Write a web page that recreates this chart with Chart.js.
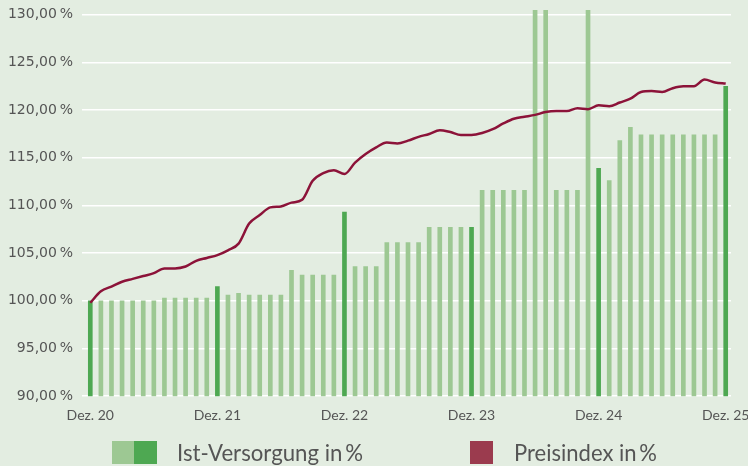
<!DOCTYPE html>
<html>
<head>
<meta charset="utf-8">
<script src="https://cdn.jsdelivr.net/npm/chart.js@4.4.1/dist/chart.umd.min.js"></script>
<style>
  html, body { margin: 0; padding: 0; background: #e3ede1; }
</style>
</head>
<body>
<canvas id="chart" width="748" height="466"></canvas>
<script>
// months Dez 20 .. Dez 25
const monthNames = ['Jan', 'Feb', 'Mär', 'Apr', 'Mai', 'Jun', 'Jul', 'Aug', 'Sep', 'Okt', 'Nov', 'Dez'];
const categories = ['Dez. 20'];
for (let y = 21; y <= 25; y++) {
    for (let m = 0; m < 12; m++) categories.push(monthNames[m] + '. ' + y);
}

const istVersorgung = [
    100.0,
    100.0, 100.0, 100.0, 100.0, 100.0, 100.0, 100.3, 100.3, 100.3, 100.3, 100.3, 101.5,
    100.6, 100.8, 100.6, 100.6, 100.6, 100.6, 103.2, 102.7, 102.7, 102.7, 102.7, 109.3,
    103.6, 103.6, 103.6, 106.1, 106.1, 106.1, 106.1, 107.7, 107.7, 107.7, 107.7, 107.7,
    111.6, 111.6, 111.6, 111.6, 111.6, 130.5, 130.5, 111.6, 111.6, 111.6, 130.5, 113.9,
    112.6, 116.8, 118.2, 117.4, 117.4, 117.4, 117.4, 117.4, 117.4, 117.4, 117.4, 122.5
];

const preisindex = [
    99.8,
    101.0, 101.5, 102.0, 102.3, 102.6, 102.9, 103.4, 103.4, 103.6, 104.2, 104.5, 104.8,
    105.3, 106.0, 108.1, 109.0, 109.8, 109.9, 110.3, 110.6, 112.6, 113.4, 113.7, 113.3,
    114.5, 115.4, 116.1, 116.6, 116.5, 116.8, 117.2, 117.5, 117.9, 117.7, 117.4, 117.4,
    117.6, 118.0, 118.6, 119.1, 119.3, 119.5, 119.8, 119.9, 119.9, 120.2, 120.1, 120.5,
    120.4, 120.8, 121.2, 121.9, 122.0, 121.9, 122.3, 122.5, 122.5, 123.2, 122.9, 122.8
];

const yTicks = [90, 95, 100, 105, 110, 115, 120, 125, 130];

const lightGreen = '#9dc893';
const darkGreen = '#4ea852';
const lineRed = '#8c1339';
const legendRed = '#9b3b4e';
const textGrey = '#555555';

const barColors = categories.map((c, i) => i % 12 === 0 ? darkGreen : lightGreen);

const bgPlugin = {
    id: 'bg',
    beforeDraw(chart) {
        const ctx = chart.ctx;
        ctx.save();
        ctx.fillStyle = '#e3ede1';
        ctx.fillRect(0, 0, chart.width, chart.height);
        ctx.restore();
    }
};

// legend with the two-tone green box
const legendPlugin = {
    id: 'customLegend',
    afterDraw(chart) {
        const ctx = chart.ctx;
        const top = chart.height - 25;
        const h = 23;
        ctx.save();
        ctx.fillStyle = lightGreen;
        ctx.fillRect(112, top, 22, h);
        ctx.fillStyle = darkGreen;
        ctx.fillRect(134, top, 23, h);
        ctx.fillStyle = legendRed;
        ctx.fillRect(470, top, 23, h);

        ctx.fillStyle = textGrey;
        ctx.font = '23px Lato';
        ctx.textBaseline = 'middle';
        const items = [['Ist-Versorgung in\u2009%', 177, 186], ['Preisindex in\u2009%', 514, 143]];
        items.forEach(([txt, x, w]) => {
            const mw = ctx.measureText(txt).width;
            ctx.save();
            ctx.translate(x, top + h / 2 + 1);
            ctx.scale(w / mw, 1);
            ctx.fillText(txt, 0, 0);
            ctx.restore();
        });
        ctx.restore();
    }
};

new Chart(document.getElementById('chart'), {
    type: 'bar',
    data: {
        labels: categories,
        datasets: [
            {
                type: 'line',
                label: 'Preisindex in %',
                data: preisindex,
                borderColor: lineRed,
                borderWidth: 2.5,
                pointRadius: 0,
                cubicInterpolationMode: 'monotone',
                order: 0
            },
            {
                label: 'Ist-Versorgung in %',
                data: istVersorgung,
                backgroundColor: barColors,
                barThickness: 4,
                order: 1
            }
        ]
    },
    options: {
        responsive: false,
        animation: false,
        layout: { padding: { left: 0, right: 17, top: 10, bottom: 31 } },
        plugins: {
            legend: { display: false },
            tooltip: { enabled: false }
        },
        scales: {
            x: {
                grid: { display: false, drawTicks: false },
                border: { display: false },
                ticks: {
                    autoSkip: false,
                    maxRotation: 0,
                    padding: 11,
                    color: textGrey,
                    font: { family: 'Lato', size: 14 },
                    callback: function (val, idx) {
                        return idx % 12 === 0 ? this.getLabelForValue(val) : null;
                    }
                },
                afterFit(scale) {
                    scale.paddingLeft = 0;
                    scale.paddingRight = 0;
                }
            },
            y: {
                min: 90,
                max: 130.5,
                grid: { color: '#ffffff', lineWidth: 1.5, tickLength: 3 },
                border: { display: false },
                ticks: {
                    padding: 9,
                    color: textGrey,
                    font: { family: 'DejaVu Sans', size: 14 },
                    callback: v => v.toFixed(2).replace('.', ',') + '\u202F%'
                },
                afterBuildTicks(scale) {
                    scale.ticks = yTicks.map(v => ({ value: v }));
                },
                afterFit(scale) {
                    scale.width = 85;
                    scale.paddingTop = 0;
                    scale.paddingBottom = 0;
                }
            }
        }
    },
    plugins: [bgPlugin, legendPlugin]
});
</script>
</body>
</html>
